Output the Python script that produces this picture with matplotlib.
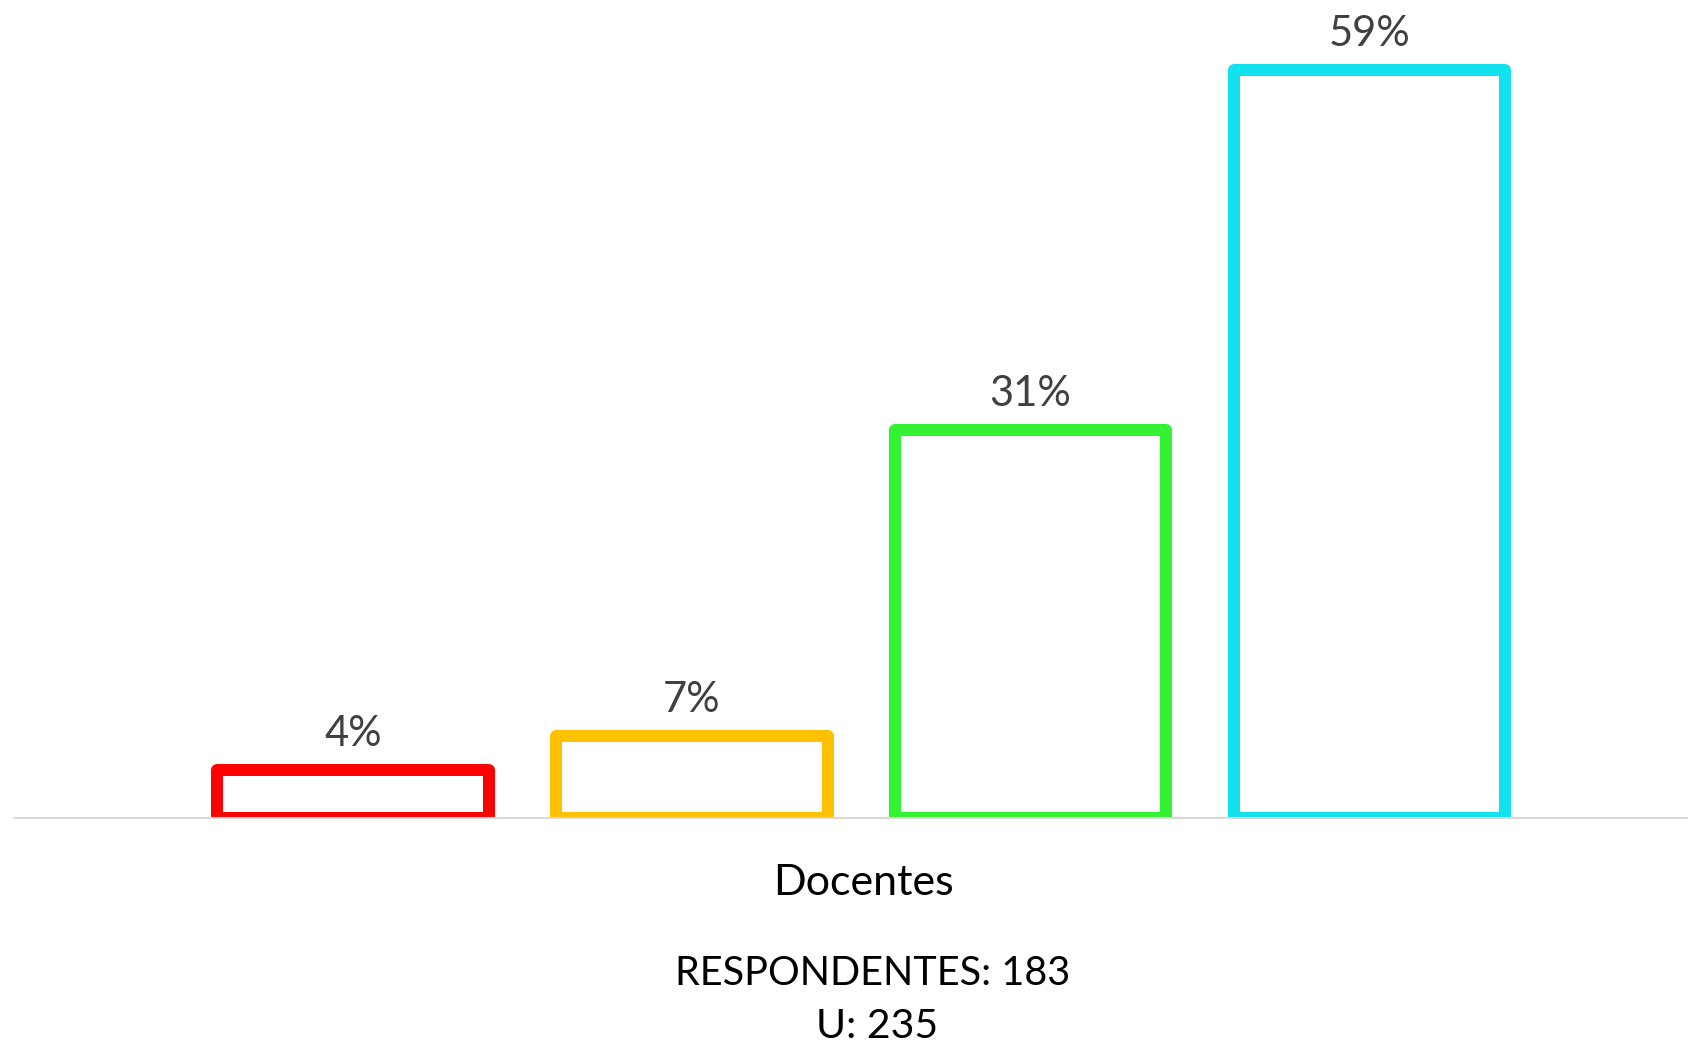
import matplotlib
matplotlib.use("Agg")
import matplotlib.pyplot as plt

plt.rcParams['font.family'] = ['Lato', 'DejaVu Sans']

categories = ["Muy en desacuerdo", "En desacuerdo", "De acuerdo", "Muy de acuerdo"]
values = [3.8, 6.5, 30.6, 59.0]
labels = ["4%", "7%", "31%", "59%"]
colors = ["#FF0000", "#FFC000", "#33F133", "#12E2EE"]
group_label = "Docentes"
footer_lines = ["RESPONDENTES: 183", "U: 235"]

W, H = 1688, 1049
fig = plt.figure(figsize=(W / 100, H / 100), dpi=100)
ax_left, ax_right = 14 / W, 1.0
ax_bottom = 1 - 818 / H
ax_top = 1 - 20 / H
ax = fig.add_axes([ax_left, ax_bottom, ax_right - ax_left, ax_top - ax_bottom])

x = list(range(len(values)))
bars = ax.bar(x, values, width=0.802, facecolor="white", edgecolor=colors,
              linewidth=8.64)
for b in bars:
    b.set_joinstyle("round")

px_per_unit = 748 / 59.0
ax.set_ylim(0, (818 - 20) / px_per_unit)
ax.set_xlim(-1.0, 3.94)

for xi, v, lab in zip(x, values, labels):
    ax.annotate(lab, (xi, v), xytext=(0, 17), textcoords="offset points",
                ha="center", va="baseline", fontsize=30, color="#404040")

for s in ["top", "left", "right"]:
    ax.spines[s].set_visible(False)
ax.spines["bottom"].set_color("#D9D9D9")
ax.spines["bottom"].set_linewidth(1.5)
ax.set_xticks([])
ax.set_yticks([])

fig.text(863 / W, 1 - 895 / H, group_label, ha="center", va="baseline",
         fontsize=31, color="black")
fig.text(873 / W, 1 - 985 / H, footer_lines[0], ha="center", va="baseline",
         fontsize=28.5, color="black")
fig.text(877 / W, 1 - 1038 / H, footer_lines[1], ha="center", va="baseline",
         fontsize=29.5, color="black")

fig.savefig("out.png", dpi=100, facecolor="white")
